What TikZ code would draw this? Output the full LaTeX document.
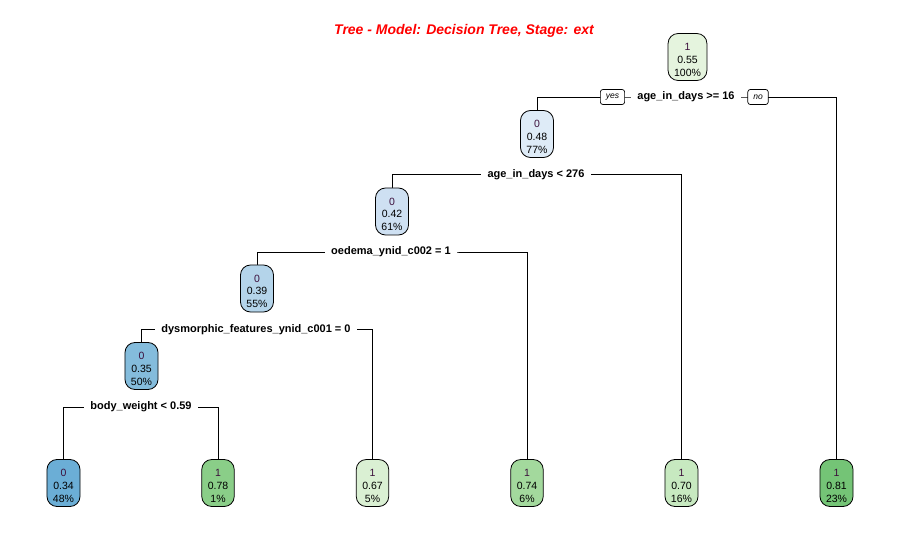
\documentclass[tikz,border=0pt]{standalone}
\usepackage{fontspec}
\setmainfont{Liberation Sans}
\usetikzlibrary{backgrounds}

% node fill colours (blue = class 0, green = class 1)
\definecolor{fRoot}{RGB}{229,244,222}
\definecolor{fNa}{RGB}{222,235,247}
\definecolor{fNb}{RGB}{206,224,242}
\definecolor{fNc}{RGB}{180,212,234}
\definecolor{fNd}{RGB}{132,188,220}
\definecolor{fLa}{RGB}{107,174,214}
\definecolor{fLb}{RGB}{138,206,136}
\definecolor{fLc}{RGB}{218,240,211}
\definecolor{fLd}{RGB}{163,217,157}
\definecolor{fLe}{RGB}{199,233,192}
\definecolor{fLf}{RGB}{116,196,118}
\definecolor{clstext}{RGB}{60,15,60}
\definecolor{titlered}{RGB}{255,0,0}

% class value on the first line, with a strut that drops the text block a little
\newcommand{\clsval}[1]{\rule{0pt}{13pt}\textcolor{clstext}{#1}}

\begin{document}
\begin{tikzpicture}[x=1pt,y=-1pt,
  treenode/.style={draw=black, line width=0.8pt, rounded corners=10pt,
    minimum height=47pt, inner xsep=6pt, inner ysep=0pt, align=center,
    font=\fontsize{10.5}{12.7}\selectfont},
  splitlabel/.style={fill=white, inner xsep=6.5pt, inner ysep=1pt,
    font=\bfseries\fontsize{11}{12}\selectfont},
  yesno/.style={draw=black, fill=white, rounded corners=2.5pt, line width=0.7pt,
    minimum height=15pt, inner xsep=5.5pt, inner ysep=0pt,
    font=\itshape\fontsize{8.5}{9}\selectfont},
  edge/.style={line width=0.8pt, draw=black}]
\useasboundingbox (0,0) rectangle (900,540);

% title
\node[font=\bfseries\itshape\fontsize{14}{16}\selectfont, text=titlered] (title)
  at (464,31) {Tree - Model: Decision Tree, Stage: ext};

% internal nodes
\node[treenode, fill=fRoot] (n1) at (687.5,57)  {\clsval{1}\\0.55\\100\%};
\node[treenode, fill=fNa]   (n2) at (537,134)   {\clsval{0}\\0.48\\77\%};
\node[treenode, fill=fNb]   (n3) at (392,211.5) {\clsval{0}\\0.42\\61\%};
\node[treenode, fill=fNc]   (n4) at (257,288.5) {\clsval{0}\\0.39\\55\%};
\node[treenode, fill=fNd]   (n5) at (141.5,366) {\clsval{0}\\0.35\\50\%};

% leaves
\node[treenode, fill=fLa] (l1) at (63.5,483)  {\clsval{0}\\0.34\\48\%};
\node[treenode, fill=fLb] (l2) at (218,483)   {\clsval{1}\\0.78\\1\%};
\node[treenode, fill=fLc] (l3) at (372.5,483) {\clsval{1}\\0.67\\5\%};
\node[treenode, fill=fLd] (l4) at (527,483)   {\clsval{1}\\0.74\\6\%};
\node[treenode, fill=fLe] (l5) at (681.5,483) {\clsval{1}\\0.70\\16\%};
\node[treenode, fill=fLf] (l6) at (836.5,483) {\clsval{1}\\0.81\\23\%};

% split labels
\node[splitlabel] (s1) at (686,97)    {age\_in\_days >= 16};
\node[splitlabel] (s2) at (536,174.5) {age\_in\_days < 276};
\node[splitlabel] (s3) at (391,252)   {oedema\_ynid\_c002 = 1};
\node[splitlabel] (s4) at (256,329.5) {dysmorphic\_features\_ynid\_c001 = 0};
\node[splitlabel] (s5) at (141,407)   {body\_weight < 0.59};

% yes / no tags on the first split
\node[yesno] (yes) at (612.5,97) {yes};
\node[yesno] (no)  at (758,97)   {no};

% branches
\begin{pgfonlayer}{background}
  \draw[edge] (n2.north) |- (s1.center) -| (l6.north);
  \draw[edge] (n3.north) |- (s2.center) -| (l5.north);
  \draw[edge] (n4.north) |- (s3.center) -| (l4.north);
  \draw[edge] (n5.north) |- (s4.center) -| (l3.north);
  \draw[edge] (l1.north) |- (s5.center) -| (l2.north);
\end{pgfonlayer}
\end{tikzpicture}
\end{document}
